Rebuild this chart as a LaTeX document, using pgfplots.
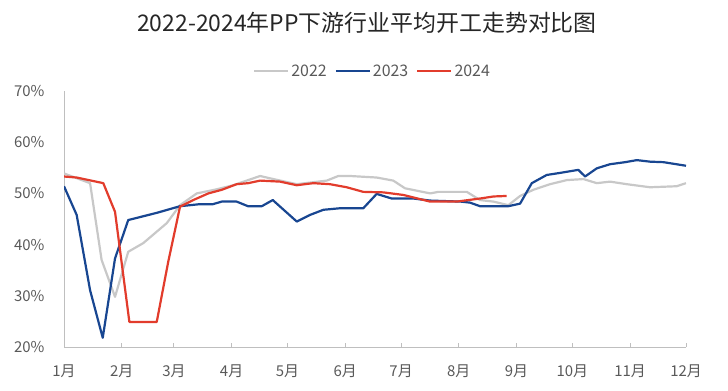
\documentclass[border=0pt]{standalone}
\usepackage{pgfplots}
\pgfplotsset{compat=1.18}
\usepackage{fontspec}
\setmainfont{Noto Sans CJK SC}
\definecolor{c22}{RGB}{200,200,200}
\definecolor{c23}{RGB}{24,70,145}
\definecolor{c24}{RGB}{226,60,44}
\definecolor{txt}{RGB}{89,89,89}
\definecolor{axc}{RGB}{191,191,191}
\begin{document}
\begin{tikzpicture}[x=1bp,y=1bp]
\useasboundingbox (0,0) rectangle (728,390);
\node[font=\fontsize{23}{27}\selectfont, text=black!85] at (367,367) {2022-2024年PP下游行业平均开工走势对比图};
\begin{axis}[
  at={(64bp,43bp)}, anchor=south west,
  scale only axis, width=622bp, height=256bp,
  xmin=0, xmax=334, ymin=20, ymax=70,
  xtick={0,31,59,90,120,151,181,212,243,273,304,334},
  xticklabels={1月,2月,3月,4月,5月,6月,7月,8月,9月,10月,11月,12月},
  ytick={20,30,40,50,60,70},
  yticklabel={\pgfmathprintnumber{\tick}\%},
  /pgf/number format/assume math mode=true,
  axis x line*=bottom, axis y line*=left,
  axis line style={draw=axc, line width=0.8bp},
  tick align=inside, major tick length=4bp,
  xtick style={draw=axc, line width=0.8bp},
  ytick style={draw=none},
  tick label style={font=\fontsize{15}{17}\selectfont, text=txt},
  xticklabel style={yshift=-14bp},
  yticklabel style={xshift=-16bp},
  legend columns=3,
  legend style={draw=none, fill=none, at={(0.496,1.078)}, anchor=center,
    font=\fontsize{16}{18}\selectfont, text=txt,
    /tikz/every even column/.append style={column sep=6bp}},
  legend image code/.code={\draw[#1] (0bp,0bp) -- (34bp,0bp);},
  every axis plot/.append style={line width=2.2bp, line join=round},
]
\addplot[c22] coordinates {
(0,53.9)(14,52.0)(20.2,37.0)(27.4,29.8)(34.5,38.6)(42.6,40.3)(55.2,44.2)(62.3,47.7)
(71.3,50.0)(82,50.8)(90.9,51.6)(98.9,52.6)(105.3,53.4)(112.4,52.8)(125,51.8)(141.1,52.5)
(147.3,53.4)(153.6,53.4)(167.9,53.1)(176.8,52.5)(183.1,51.0)(196.6,50.0)(201,50.3)
(216.3,50.3)(223.4,48.7)(230.6,48.4)(238.6,47.7)(244.9,49.5)(252,50.7)(261,51.8)
(270,52.6)(278.9,52.8)(286.1,52.0)(293.2,52.3)(302.2,51.8)(314.7,51.2)(329,51.4)(334,52.0)
};
\addlegendentry{2022}
\addplot[c23] coordinates {
(0,51.4)(6.8,45.8)(14,31.1)(20.8,21.8)(27.4,37.3)(34.5,44.8)(49.8,46.2)(62.3,47.5)
(73,47.9)(80,47.9)(84.7,48.4)(92.7,48.4)(98.8,47.5)(106.2,47.5)(112.1,48.7)(125,44.5)
(132.1,45.8)(139.3,46.8)(148.2,47.1)(160.7,47.1)(167.9,49.9)(176,49.0)(187.6,49.0)
(196.6,48.6)(213,48.4)(218,48.2)(223.4,47.5)(238.6,47.5)(244.9,48.0)(251.2,52.0)
(259.2,53.6)(266.3,54.0)(276.2,54.6)(279.8,53.3)(286.1,54.9)(293.2,55.7)(301.3,56.1)
(307.6,56.5)(314.7,56.2)(321.9,56.1)(334,55.4)
};
\addlegendentry{2023}
\addplot[c24] coordinates {
(0,53.3)(6.8,53.1)(21.1,52.0)(27.4,46.4)(35.1,24.9)(49.8,24.9)(56,36.7)(62.3,47.4)
(69.4,48.7)(77.5,50.0)(84.7,50.7)(92.7,51.8)(98.9,52.0)(105.3,52.5)(116,52.3)(125,51.6)
(133.9,52.0)(142.8,51.8)(151.8,51.2)(160.7,50.3)(171.5,50.2)(182.2,49.7)(196.6,48.4)
(210.9,48.4)(223.4,49.0)(230.6,49.4)(237.7,49.5)
};
\addlegendentry{2024}
\end{axis}
\end{tikzpicture}
\end{document}
